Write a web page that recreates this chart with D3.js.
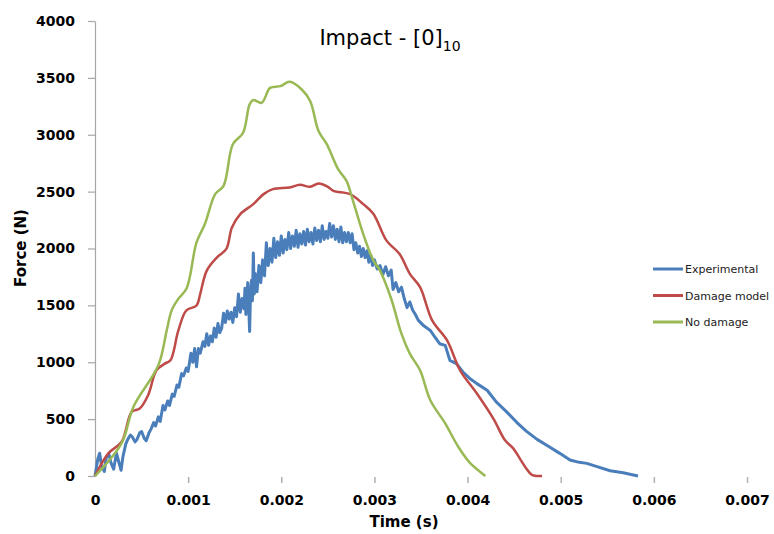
<!DOCTYPE html>
<html>
<head>
<meta charset="utf-8">
<script src="https://cdn.jsdelivr.net/npm/d3@7"></script>
<style>
  body { margin: 0; background: #fff; }
  svg { display: block; }
</style>
</head>
<body>
<div id="chart"></div>
<script>
// time in ms (converted to s on plotting), force in N
var tExp = [0, 0.03, 0.05, 0.07, 0.1, 0.12, 0.15, 0.17, 0.2, 0.23, 0.26, 0.28, 0.3, 0.33, 0.35, 0.38, 0.4, 0.43, 0.45, 0.48,
  0.5, 0.53, 0.55, 0.58, 0.6, 0.63, 0.65, 0.68, 0.7, 0.73, 0.75, 0.78, 0.8, 0.83, 0.85, 0.88, 0.9, 0.93, 0.95, 0.98,
  1.0, 1.03, 1.05, 1.07, 1.09, 1.11, 1.13, 1.16, 1.18,
  1.20, 1.22, 1.24, 1.26, 1.28, 1.30, 1.32, 1.34, 1.36, 1.38, 1.40, 1.42, 1.44, 1.46, 1.48, 1.50, 1.52, 1.54, 1.56, 1.58,
  1.60, 1.61, 1.62, 1.64, 1.65, 1.66, 1.67, 1.68, 1.69, 1.70, 1.71, 1.72, 1.74, 1.76, 1.78, 1.80, 1.82, 1.84, 1.86, 1.88,
  1.90, 1.92, 1.94, 1.96, 1.98, 2.00, 2.02, 2.04, 2.06, 2.08, 2.10, 2.12, 2.14, 2.16, 2.18, 2.20, 2.22, 2.24, 2.26, 2.28,
  2.30, 2.32, 2.34, 2.36, 2.38, 2.40, 2.42, 2.44, 2.46, 2.48, 2.50, 2.52, 2.54, 2.56, 2.58, 2.60, 2.62, 2.64, 2.66, 2.68,
  2.70, 2.72, 2.74, 2.76, 2.78, 2.80, 2.82, 2.84, 2.86, 2.88, 2.90, 2.92, 2.94, 2.96, 2.98, 3.00, 3.03, 3.06, 3.09, 3.12,
  3.15, 3.18, 3.20, 3.23, 3.26, 3.29, 3.32, 3.35, 3.38, 3.41, 3.44, 3.47, 3.53, 3.6, 3.65, 3.7, 3.76, 3.81, 3.88, 3.95,
  4.02, 4.10, 4.21, 4.31, 4.42, 4.53, 4.63, 4.75, 4.85, 4.99, 5.10, 5.2, 5.28, 5.39, 5.53, 5.67, 5.83];
var fExp = [0, 150, 200, 90, 40, 160, 190, 120, 60, 200, 110, 50, 170, 280, 320, 360, 345, 300, 320, 380,
  390, 330, 310, 380, 410, 470, 440, 520, 480, 620, 580, 660, 620, 720, 700, 800, 780, 900, 880, 950,
  920, 1080, 1000, 1120, 960, 1120, 1080, 1180, 1140,
  1250, 1150, 1230, 1180, 1300, 1220, 1340, 1260, 1300, 1430, 1350, 1450, 1380, 1440, 1350, 1480, 1400, 1600, 1440, 1560,
  1470, 1650, 1420, 1700, 1500, 1270, 1620, 1720, 1540, 1960, 1600, 1780, 1620, 1850, 1700, 1900, 1760, 2050, 1850, 2000,
  1880, 2090, 1920, 2060, 1940, 2110, 1960, 2080, 1990, 2140, 2000, 2110, 2020, 2160, 2010, 2130, 2040, 2150, 2030, 2170,
  2060, 2140, 2040, 2180, 2070, 2160, 2060, 2200, 2080, 2150, 2090, 2220, 2100, 2200, 2080, 2170, 2060, 2190, 2050, 2140,
  2060, 2140, 2050, 2130, 1990, 2050, 1960, 2020, 1930, 2000, 1920, 1980, 1880, 1940, 1850, 1900, 1820, 1850, 1770, 1840,
  1760, 1810, 1640, 1700, 1620, 1660, 1560, 1480, 1530, 1460, 1420, 1370, 1320, 1280, 1220, 1163, 1148, 1017, 988, 914,
  860, 812, 754, 650, 564, 470, 395, 320, 270, 199, 140, 120, 111, 82, 46, 29, 0];

var tDam = [0, 0.143, 0.286, 0.394, 0.48, 0.57, 0.66, 0.75, 0.81, 0.895, 0.98, 1.09, 1.13, 1.2, 1.31, 1.41, 1.47, 1.56, 1.7, 1.81,
  1.91, 2.09, 2.2, 2.31, 2.4, 2.5, 2.56, 2.74, 2.88, 2.99, 3.13, 3.27, 3.38, 3.49, 3.62, 3.78, 3.92, 4.1, 4.28, 4.40,
  4.49, 4.56, 4.63, 4.69, 4.8];
var fDam = [0, 199, 301, 564, 593, 710, 929, 988, 1017, 1280, 1455, 1499, 1602, 1806, 1922, 1996, 2185, 2303, 2390, 2478,
  2522, 2536, 2560, 2542, 2571, 2542, 2507, 2478, 2390, 2303, 2069, 1952, 1777, 1660, 1368, 1192, 929, 725, 500, 316,
  243, 155, 67, 10, 0];

var tNo = [0, 0.286, 0.412, 0.68, 0.77, 0.823, 0.895, 0.984, 1.09, 1.18, 1.29, 1.38, 1.48, 1.59, 1.66, 1.7, 1.79, 1.88, 1.99, 2.09,
  2.22, 2.31, 2.4, 2.49, 2.61, 2.7, 2.77, 2.88, 2.99, 3.06, 3.18, 3.29, 3.38, 3.49, 3.6, 3.76, 3.9, 4.03, 4.19];
var fNo = [0, 289, 607, 973, 1280, 1456, 1558, 1650, 2054, 2215, 2478, 2551, 2916, 3018, 3267, 3305, 3281, 3412, 3427, 3465,
  3398, 3296, 3033, 2916, 2697, 2595, 2419, 2127, 1893, 1806, 1558, 1251, 1076, 929, 666, 462, 257, 111, 0];

var xTicks = [0, 0.001, 0.002, 0.003, 0.004, 0.005, 0.006, 0.007];
var yTicks = [0, 500, 1000, 1500, 2000, 2500, 3000, 3500, 4000];
var seriesNames = ["Experimental", "Damage model", "No damage"];
var seriesColors = ["#4a7ebb", "#be4b48", "#98b954"];

var width = 774, height = 534;
var svg = d3.select("#chart").append("svg")
  .attr("width", width).attr("height", height);

var x = d3.scaleLinear().domain([0, 0.007]).range([95, 747]);
var y = d3.scaleLinear().domain([0, 4000]).range([476, 21]);

// y axis
var yAxis = svg.append("g")
  .attr("transform", "translate(95,0)")
  .call(d3.axisLeft(y).tickValues(yTicks).tickSize(7).tickPadding(13).tickSizeOuter(0)
    .tickFormat(d3.format("d")));
yAxis.select(".domain").attr("stroke", "#a6a6a6").attr("stroke-width", 1.2);
yAxis.selectAll(".tick line").attr("stroke", "#a6a6a6").attr("stroke-width", 1.2);
yAxis.selectAll("text")
  .style("font-family", "DejaVu Sans").style("font-weight", "bold").style("font-size", "14px").attr("fill", "#000");

// x axis: tick marks only, no line
var xAxis = svg.append("g")
  .attr("transform", "translate(0,477)")
  .call(d3.axisBottom(x).tickValues(xTicks).tickSize(6).tickPadding(12)
    .tickFormat(function (d) { return d === 0 ? "0" : d3.format(".3f")(d); }));
xAxis.select(".domain").remove();
xAxis.selectAll(".tick line").attr("stroke", "#b0b0b0").attr("stroke-width", 1.5);
xAxis.selectAll(".tick").filter(function (d) { return d === 0; }).select("line").remove();
xAxis.selectAll("text")
  .style("font-family", "DejaVu Sans").style("font-weight", "bold").style("font-size", "14px").attr("fill", "#000");

// lines
var lineRaw = d3.line()
  .x(function (d) { return x(d[0] / 1000); })
  .y(function (d) { return y(d[1]); });
var lineSmooth = d3.line()
  .curve(d3.curveCatmullRom.alpha(0.5))
  .x(function (d) { return x(d[0] / 1000); })
  .y(function (d) { return y(d[1]); });

var allSeries = [
  d3.zip(tExp, fExp),
  d3.zip(tDam, fDam),
  d3.zip(tNo, fNo)
];

allSeries.forEach(function (s, i) {
  svg.append("path")
    .datum(s)
    .attr("fill", "none")
    .attr("stroke", seriesColors[i])
    .attr("stroke-width", i === 0 ? 3 : 2.5)
    .attr("stroke-linejoin", "round")
    .attr("d", i === 0 ? lineRaw : lineSmooth);
});

// title
var title = svg.append("text")
  .attr("x", 390).attr("y", 45)
  .attr("text-anchor", "middle")
  .style("font-family", "DejaVu Sans").style("font-size", "21px").attr("fill", "#000");
title.append("tspan").text("Impact - [0]");
title.append("tspan").attr("dy", 6).style("font-size", "14px").text("10");

// axis titles
svg.append("text")
  .attr("x", 404).attr("y", 527)
  .attr("text-anchor", "middle")
  .style("font-family", "DejaVu Sans").style("font-weight", "bold").style("font-size", "15px")
  .text("Time (s)");

svg.append("text")
  .attr("transform", "translate(26,248) rotate(-90)")
  .attr("text-anchor", "middle")
  .style("font-family", "DejaVu Sans").style("font-weight", "bold").style("font-size", "15px")
  .text("Force (N)");

// legend
var legend = svg.append("g").attr("transform", "translate(653,269)");
seriesNames.forEach(function (name, i) {
  var g = legend.append("g").attr("transform", "translate(0," + (i * 26.5) + ")");
  g.append("line").attr("x1", 0).attr("x2", 30).attr("y1", 0).attr("y2", 0)
    .attr("stroke", seriesColors[i]).attr("stroke-width", 3);
  g.append("text").attr("x", 32).attr("y", 4)
    .style("font-family", "DejaVu Sans").style("font-size", "11px").attr("fill", "#222")
    .text(name);
});
</script>
</body>
</html>
